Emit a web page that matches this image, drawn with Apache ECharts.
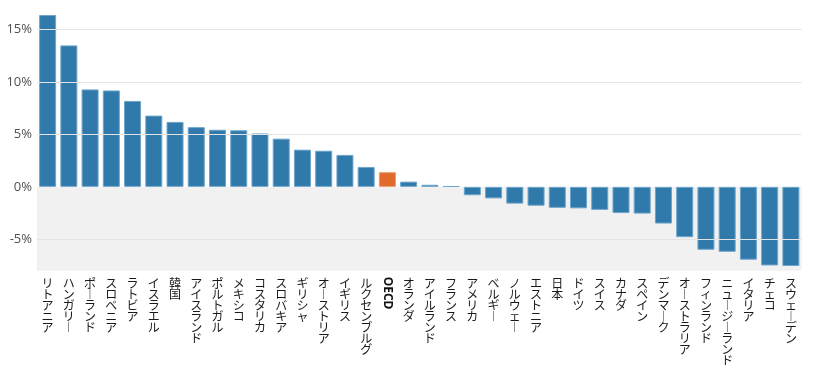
<!DOCTYPE html>
<html>
<head>
<meta charset="utf-8">
<script src="https://cdn.jsdelivr.net/npm/echarts@6/dist/echarts.min.js"></script>
<style>
html,body{margin:0;padding:0;background:#fff;}
#chart{width:813px;height:373px;}
</style>
</head>
<body>
<div id="chart"></div>
<script>
const categories = ['リトアニア','ハンガリー','ポーランド','スロベニア','ラトビア','イスラエル','韓国','アイスランド','ポルトガル','メキシコ','コスタリカ','スロバキア','ギリシャ','オーストリア','イギリス','ルクセンブルグ','OECD','オランダ','アイルランド','フランス','アメリカ','ベルギー','ノルウェー','エストニア','日本','ドイツ','スイス','カナダ','スペイン','デンマーク','オーストラリア','フィンランド','ニュージーランド','イタリア','チェコ','スウェーデン'];
const values = [16.4,13.5,9.3,9.2,8.2,6.8,6.2,5.7,5.45,5.4,5.1,4.6,3.55,3.45,3.05,1.9,1.4,0.5,0.2,0.07,-0.8,-1.1,-1.6,-1.8,-2.0,-2.05,-2.2,-2.5,-2.55,-3.5,-4.8,-6.0,-6.2,-6.95,-7.5,-7.55];
const highlight = 'OECD';
const yTickLabels = [-5, 0, 5, 10, 15];
const yMin = -8;
const yMax = 16.4;

const BLUE = '#2f79ab';
const ORANGE = '#e0692c';

function vertical(name) {
  return name.split('').map(c => c === 'ー' ? '︱' : c).join('\n');
}

const chart = echarts.init(document.getElementById('chart'));
const grid = {left: 37, right: 11.5, top: 15, bottom: 102.3};

chart.setOption({
  animation: false,
  grid: grid,
  xAxis: [{
    type: 'category',
    data: categories,
    position: 'bottom',
    axisLine: {show: false, onZero: false},
    axisTick: {show: false},
    axisLabel: {
      interval: 0,
      hideOverlap: false,
      margin: 7,
      fontFamily: 'Noto Sans CJK JP',
      fontSize: 12,
      lineHeight: 11,
      color: '#1a1a1a',
      formatter: v => v === highlight ? '' : vertical(v)
    }
  }, {
    type: 'category',
    data: categories,
    position: 'bottom',
    axisLine: {show: false, onZero: false},
    axisTick: {show: false},
    axisLabel: {
      interval: 0,
      hideOverlap: false,
      rotate: -90,
      margin: 6,
      fontFamily: 'Noto Sans',
      fontWeight: 'bold',
      fontSize: 12,
      color: '#111',
      formatter: v => v === highlight ? v : ''
    }
  }],
  yAxis: {
    type: 'value',
    min: yMin,
    max: yMax,
    interval: 1,
    axisLine: {show: false},
    axisTick: {show: false},
    splitLine: {show: false},
    axisLabel: {
      margin: 5,
      fontFamily: 'Open Sans',
      fontSize: 13,
      color: '#505050',
      showMaxLabel: false,
      formatter: v => yTickLabels.indexOf(v) >= 0 ? v + '%' : ''
    }
  },
  series: [{
    type: 'line',
    data: [],
    z: 1,
    silent: true,
    markArea: {
      silent: true,
      itemStyle: {color: '#f1f1f1'},
      data: [[{yAxis: yMin}, {yAxis: 0}]]
    }
  }, {
    type: 'line',
    data: [],
    z: 2,
    silent: true,
    markLine: {
      silent: true,
      symbol: 'none',
      label: {show: false},
      lineStyle: {type: 'solid', color: '#e3e3e3', width: 1},
      data: yTickLabels.filter(v => v !== 0).map(v => ({yAxis: v}))
    }
  }, {
    type: 'bar',
    z: 3,
    xAxisIndex: 0,
    barWidth: 17,
    data: values.map((v, i) => ({
      value: v,
      itemStyle: {
        color: categories[i] === highlight ? ORANGE : BLUE,
        borderColor: categories[i] === highlight ? '#ee9a6c' : '#6ea5cb',
        borderWidth: 1
      }
    }))
  }]
});
</script>
</body>
</html>
